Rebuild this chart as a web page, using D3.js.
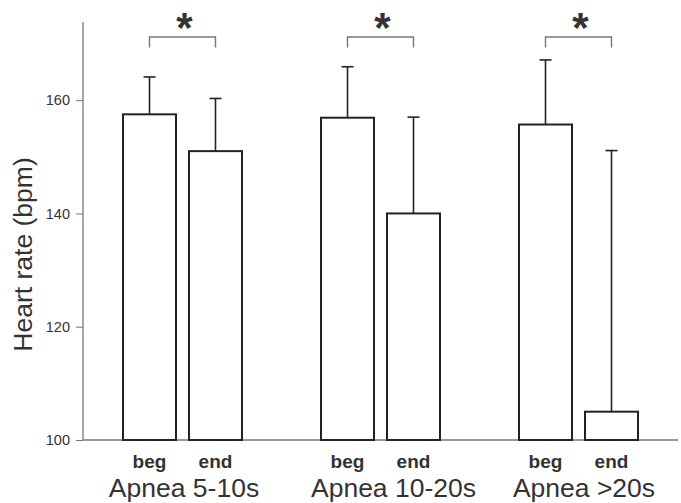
<!DOCTYPE html>
<html>
<head>
<meta charset="utf-8">
<script src="https://cdn.jsdelivr.net/npm/d3@7"></script>
<style>
  body { margin: 0; background: #fff; }
  svg { display: block; font-family: Arial, "Liberation Sans", sans-serif; }
</style>
</head>
<body>
<svg id="root" width="681" height="503"></svg>
<script>

const groups = ['Apnea 5-10s', 'Apnea 10-20s', 'Apnea >20s'];
const phases = ['beg', 'end'];
const means = [157.5, 151.0, 156.9, 140.0, 155.7, 105.0];
const upper = [164.1, 160.3, 165.9, 157.0, 167.1, 151.1];
const yTicks = [100, 120, 140, 160];

const root = d3.select('#root');
const plotLeft = 83, plotRight = 678, plotTop = 22, plotBottom = 440;

const y = d3.scaleLinear().domain([100, 173.8]).range([plotBottom, plotTop]);
const xGroup = d3.scaleBand().domain(groups).range([83, 677]);
const xPhase = d3.scaleBand().domain(phases).range([0, 119]).paddingInner(0.197);
const groupOffset = 40;
// the group titles in the original are not quite centred under their bars
const labelNudge = [1.5, 13, 5.5];

const rows = [];
groups.forEach((g, gi) => {
    phases.forEach((p, pi) => {
        rows.push({ group: g, phase: p, mean: means[gi * 2 + pi], up: upper[gi * 2 + pi] });
    });
});

const barX = d => xGroup(d.group) + groupOffset + xPhase(d.phase);
const barMid = d => barX(d) + xPhase.bandwidth() / 2;

// y axis
const yAxis = root.append('g')
    .attr('transform', `translate(${plotLeft},0)`)
    .call(d3.axisLeft(y).tickValues(yTicks).tickSize(7).tickPadding(6).tickSizeOuter(0));
yAxis.select('.domain').remove();
yAxis.selectAll('.tick line').attr('stroke', '#777');
yAxis.selectAll('.tick text').attr('fill', '#333').style('font-size', '14.5px')
    .style('font-family', 'Arial, "Liberation Sans", sans-serif');

root.append('line')
    .attr('x1', plotLeft).attr('x2', plotLeft).attr('y1', plotTop).attr('y2', plotBottom)
    .attr('stroke', '#777').attr('stroke-width', 1.3);
root.append('line')
    .attr('x1', plotLeft).attr('x2', plotRight).attr('y1', plotBottom).attr('y2', plotBottom)
    .attr('stroke', '#777').attr('stroke-width', 1.3);

// error bars
const err = root.append('g');
err.selectAll('line.v').data(rows).enter().append('line')
    .attr('x1', barMid).attr('x2', barMid)
    .attr('y1', d => y(d.mean)).attr('y2', d => y(d.up))
    .attr('stroke', '#222').attr('stroke-width', 1.6);
err.selectAll('line.cap').data(rows).enter().append('line')
    .attr('x1', d => barMid(d) - 6).attr('x2', d => barMid(d) + 6)
    .attr('y1', d => y(d.up)).attr('y2', d => y(d.up))
    .attr('stroke', '#222').attr('stroke-width', 1.6);

// bars
root.append('g').selectAll('rect').data(rows).enter().append('rect')
    .attr('x', barX)
    .attr('y', d => y(d.mean))
    .attr('width', xPhase.bandwidth())
    .attr('height', d => y(100) - y(d.mean))
    .attr('fill', '#fff')
    .attr('stroke', '#222')
    .attr('stroke-width', 2);

// significance brackets
const brackets = root.append('g');
groups.forEach(g => {
    const a = barMid({ group: g, phase: 'beg' });
    const b = barMid({ group: g, phase: 'end' });
    brackets.append('path')
        .attr('d', `M${a},47.5V37H${b}V47.5`)
        .attr('fill', 'none').attr('stroke', '#777').attr('stroke-width', 1.4);
    brackets.append('text')
        .attr('x', (a + b) / 2 + 2).attr('y', 42)
        .attr('text-anchor', 'middle')
        .attr('fill', '#333')
        .style('font-size', '42px').style('font-weight', 'bold')
        .text('*');
});

// phase labels
root.append('g').selectAll('text').data(rows).enter().append('text')
    .attr('x', barMid).attr('y', 468)
    .attr('text-anchor', 'middle')
    .attr('fill', '#333')
    .style('font-size', '19px').style('font-weight', 'bold')
    .text(d => d.phase);

// group labels
root.append('g').selectAll('text').data(groups).enter().append('text')
    .attr('x', (g, i) => (barMid({ group: g, phase: 'beg' }) + barMid({ group: g, phase: 'end' })) / 2 + labelNudge[i])
    .attr('y', 497)
    .attr('text-anchor', 'middle')
    .attr('fill', '#333')
    .style('font-size', '26.5px')
    .text(g => g);

// y label
root.append('text')
    .attr('transform', 'translate(32,254.5) rotate(-90)')
    .attr('text-anchor', 'middle')
    .attr('fill', '#333')
    .style('font-size', '26.5px')
    .text('Heart rate (bpm)');

</script>
</body>
</html>
